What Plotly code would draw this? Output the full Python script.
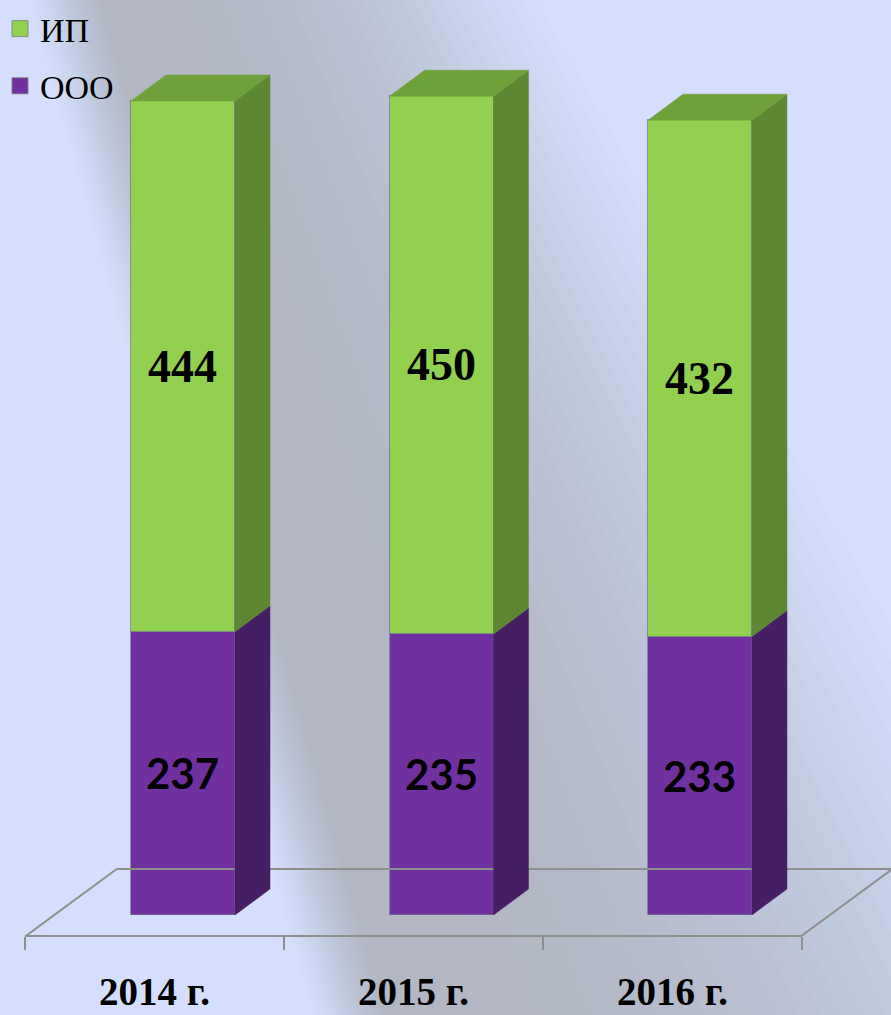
import plotly.graph_objects as go

# ---------------- data ----------------
years = ["2014 г.", "2015 г.", "2016 г."]
ooo = [237, 235, 233]
ip = [444, 450, 432]
series_names = ["ИП", "ООО"]

# ---------------- styles ----------------
GREEN_FRONT, GREEN_SIDE, GREEN_TOP = "#92D050", "#5E8734", "#6FA13B"
PURPLE_FRONT, PURPLE_SIDE = "#7030A0", "#461E64"
BG = "#D5DFFD"
SHADE = "#A2AAAE"
FLOOR_COLOR = "#8E8E8E"

W, H = 891, 1015
MB = 79                     # bottom margin (floor front line)
PLOT_H = H - MB
PX_X = 258.5                # px per category unit
X0_PX = 183                 # px of first category centre
PX_Y = 1.1953               # px per value unit
ZERO_PX = 915               # px of value 0

BAR_W = 104 / PX_X
DX = 35 / PX_X              # bar depth (x)
DY = 26 / PX_Y              # bar depth (y)
FL_OFF_X = -28 / PX_X       # floor front offset from bar front
FL_OFF_Y = -21 / PX_Y
FL_DX = 91 / PX_X           # floor depth
FL_DY = 67 / PX_Y

xr = [-X0_PX / PX_X, (W - X0_PX) / PX_X]
yr = [-(PLOT_H - ZERO_PX) / PX_Y, ZERO_PX / PX_Y]

xs = list(range(len(years)))
n = len(years)

fig = go.Figure()

# ---------------- floor (back + side edges) ----------------
fl_x0 = -0.5 + FL_OFF_X
fl_x1 = n - 0.5 + FL_OFF_X
fl_y = FL_OFF_Y
floor_x = [fl_x0, fl_x0 + FL_DX, None, fl_x0 + FL_DX, fl_x1 + FL_DX, None, fl_x1, fl_x1 + FL_DX]
floor_y = [fl_y, fl_y + FL_DY, None, fl_y + FL_DY, fl_y + FL_DY, None, fl_y, fl_y + FL_DY]
fig.add_trace(go.Scatter(x=floor_x, y=floor_y, mode="lines",
                         line=dict(color=FLOOR_COLOR, width=2),
                         showlegend=False, hoverinfo="skip", cliponaxis=False))

# ---------------- bars (front faces) ----------------
fig.add_trace(go.Bar(
    x=xs, y=ooo, width=BAR_W, name=series_names[1], showlegend=False,
    marker=dict(color=PURPLE_FRONT, line=dict(color="rgba(110,110,140,0.7)", width=1)),
    text=[str(v) for v in ooo], textposition="inside", insidetextanchor="middle",
    textangle=0, constraintext="none",
    textfont=dict(family="Lato", size=42, color="black", weight="bold"),
))
fig.add_trace(go.Bar(
    x=xs, y=ip, width=BAR_W, name=series_names[0], showlegend=False,
    marker=dict(color=GREEN_FRONT, line=dict(color="rgba(110,110,140,0.7)", width=1)),
    text=[str(v) for v in ip], textposition="inside", insidetextanchor="middle",
    textangle=0, constraintext="none",
    textfont=dict(family="Liberation Serif", size=46, color="black", weight="bold"),
))


def side_faces(bases, tops):
    px, py = [], []
    for i, (b, t) in enumerate(zip(bases, tops)):
        x1 = i + BAR_W / 2
        px += [x1, x1 + DX, x1 + DX, x1, x1, None]
        py += [b, b + DY, t + DY, t, b, None]
    return px, py


def top_faces(tops):
    px, py = [], []
    for i, t in enumerate(tops):
        x0, x1 = i - BAR_W / 2, i + BAR_W / 2
        px += [x0, x0 + DX, x1 + DX, x1, x0, None]
        py += [t, t + DY, t + DY, t, t, None]
    return px, py


tot = [a + b for a, b in zip(ooo, ip)]
sx, sy = side_faces([0] * n, ooo)
fig.add_trace(go.Scatter(x=sx, y=sy, fill="toself", fillcolor=PURPLE_SIDE, mode="lines",
                         line=dict(width=0.5, color=PURPLE_SIDE), showlegend=False, hoverinfo="skip"))
sx, sy = side_faces(ooo, tot)
fig.add_trace(go.Scatter(x=sx, y=sy, fill="toself", fillcolor=GREEN_SIDE, mode="lines",
                         line=dict(width=0.5, color=GREEN_SIDE), showlegend=False, hoverinfo="skip"))
tx, ty = top_faces(tot)
fig.add_trace(go.Scatter(x=tx, y=ty, fill="toself", fillcolor=GREEN_TOP, mode="lines",
                         line=dict(width=0.5, color=GREEN_TOP), showlegend=False, hoverinfo="skip"))

# ---------------- category axis (floor front) ----------------
fig.add_trace(go.Scatter(x=years, y=[None] * n, xaxis="x2", yaxis="y", mode="markers",
                         showlegend=False, hoverinfo="skip"))

# ---------------- legend entries ----------------
for name, col, grp in [(series_names[0], GREEN_FRONT, "a"), (series_names[1], PURPLE_FRONT, "b")]:
    fig.add_trace(go.Scatter(x=[None], y=[None], mode="markers", name=name, legendgroup=grp,
                             marker=dict(symbol="square", size=18, color=col,
                                         line=dict(color="rgba(120,120,120,0.8)", width=1))))

# ---------------- background shading (diagonal band, nested layers) ----------------
A_MAX = 0.52
N_LAYERS = 24
a_layer = 1 - (1 - A_MAX) ** (1 / N_LAYERS)
RAMP = 75


def edge(ypx):
    return 100 + 0.28 * ypx


def fade_len(ypx):
    return 450 + 300 * ypx / H


def to_paper(xpx, ypx):
    return xpx / W, (PLOT_H - ypx) / PLOT_H


shapes = []
y_top, y_bot = -10, H + 10
for k in range(1, N_LAYERS + 1):
    Ak = min(1 - (1 - a_layer) ** k, A_MAX * 0.999)
    s = RAMP * (Ak / A_MAX) - RAMP
    t = (1 - Ak / A_MAX) ** (1 / 1.5)
    u = 0.2 + 0.8 * t
    pts = [(edge(y_top) + s, y_top), (edge(y_top) + u * fade_len(y_top), y_top),
           (edge(y_bot) + u * fade_len(y_bot), y_bot), (edge(y_bot) + s, y_bot)]
    path = "M " + " L ".join("%.5f,%.5f" % to_paper(px, py) for px, py in pts) + " Z"
    shapes.append(dict(type="path", path=path, xref="paper", yref="paper",
                       fillcolor=SHADE, opacity=a_layer, line=dict(width=0), layer="below"))

fig.update_layout(
    width=W, height=H,
    margin=dict(l=0, r=0, t=0, b=MB, pad=0, autoexpand=False),
    paper_bgcolor=BG, plot_bgcolor="rgba(0,0,0,0)",
    barmode="stack", bargap=0,
    shapes=shapes,
    showlegend=True,
    legend=dict(x=0.0, y=1.0, xref="container", yref="container", xanchor="left", yanchor="top",
                bgcolor="rgba(0,0,0,0)", traceorder="grouped", tracegroupgap=10,
                borderwidth=0,
                font=dict(family="Liberation Serif", size=34, color="black"),
                itemsizing="trace"),
    xaxis=dict(range=xr, visible=False, fixedrange=True, automargin=False),
    yaxis=dict(range=yr, visible=False, fixedrange=True, automargin=False),
    xaxis2=dict(type="category", categoryorder="array", categoryarray=years,
                range=[-0.5, n - 0.5], domain=[25 / W, 802 / W], anchor="free", position=0,
                automargin=False,
                showline=True, linecolor=FLOOR_COLOR, linewidth=2,
                ticks="outside", tickson="boundaries", ticklen=13, tickwidth=2, tickcolor=FLOOR_COLOR,
                showgrid=False, zeroline=False, ticklabelstandoff=21,
                tickfont=dict(family="Liberation Serif", size=39, color="black", weight="bold")),
)

fig.write_html("out.html", config={"displayModeBar": False},
               post_script=("document.body.style.margin='0';"
                            "document.documentElement.style.overflow='hidden';"
                            "var lg=document.querySelector('.legend');"))
